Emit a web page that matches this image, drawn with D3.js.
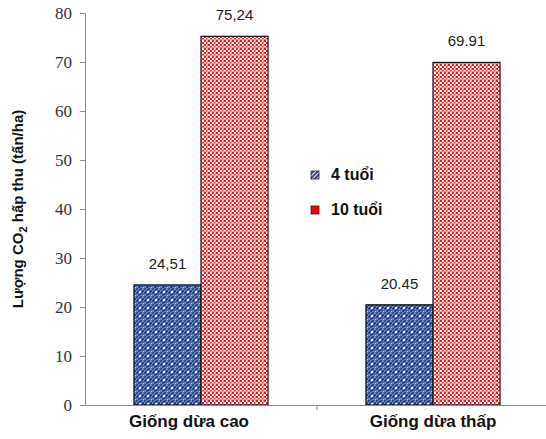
<!DOCTYPE html>
<html>
<head>
<meta charset="utf-8">
<script src="https://cdn.jsdelivr.net/npm/d3@7"></script>
<style>
  html, body { margin: 0; padding: 0; background: #fff; }
  svg { display: block; }
  .ytick text { font-family: 'Liberation Serif', 'DejaVu Serif', serif; }
</style>
</head>
<body>
<div id="chart"></div>
<script>
// Carbon uptake of coconut varieties by tree age
const categories = ["Giống dừa cao", "Giống dừa thấp"];
const seriesNames = ["4 tuổi", "10 tuổi"];
const values4 = [24.51, 20.45];
const values10 = [75.24, 69.91];
const valueLabels4 = ["24,51", "20.45"];
const valueLabels10 = ["75,24", "69.91"];
const yTicks = [0, 10, 20, 30, 40, 50, 60, 70, 80];

const W = 546, H = 439;
const margin = { left: 85, right: -3, top: 13, bottom: 34 };
const svg = d3.select("#chart").append("svg").attr("width", W).attr("height", H);

// Fill patterns
const defs = svg.append("defs");
const pb = defs.append("pattern").attr("id", "patBlue")
  .attr("patternUnits", "userSpaceOnUse").attr("width", 8).attr("height", 8);
pb.append("rect").attr("width", 8).attr("height", 8).attr("fill", "#6f84bb");
for (let i = 0; i < 8; i += 2) for (let j = 0; j < 8; j += 2) {
  if (((i + j) / 2) % 2 === 0) pb.append("rect").attr("x", i).attr("y", j).attr("width", 2).attr("height", 2).attr("fill", "#2c4a96");
}
pb.append("rect").attr("x", 3).attr("y", 3).attr("width", 2).attr("height", 2).attr("fill", "#ffffff");
pb.append("rect").attr("x", 3).attr("y", 1).attr("width", 2).attr("height", 1).attr("fill", "#1a3583");
pb.append("rect").attr("x", 3).attr("y", 6).attr("width", 2).attr("height", 1).attr("fill", "#1a3583");
pb.append("rect").attr("x", 1).attr("y", 3).attr("width", 1).attr("height", 2).attr("fill", "#1a3583");
pb.append("rect").attr("x", 6).attr("y", 3).attr("width", 1).attr("height", 2).attr("fill", "#1a3583");
pb.append("rect").attr("x", 7).attr("y", 7).attr("width", 1).attr("height", 1).attr("fill", "#d8e0f4");

const pr = defs.append("pattern").attr("id", "patRed")
  .attr("patternUnits", "userSpaceOnUse").attr("width", 8).attr("height", 8);
pr.append("rect").attr("width", 8).attr("height", 8).attr("fill", "#ffffff");
for (let i = 0; i < 8; i += 2) for (let j = 0; j < 8; j += 2) {
  if (((i + j) / 2) % 2 === 0) pr.append("rect").attr("x", i).attr("y", j).attr("width", 2).attr("height", 2).attr("fill", "#ff1010");
}
pr.append("rect").attr("x", 0).attr("y", 7).attr("width", 8).attr("height", 1).attr("fill", "#ff8a8a");
pr.append("rect").attr("x", 7).attr("y", 0).attr("width", 1).attr("height", 8).attr("fill", "#ff8a8a");

const ph = defs.append("pattern").attr("id", "patHatch")
  .attr("patternUnits", "userSpaceOnUse").attr("width", 3).attr("height", 3)
  .attr("patternTransform", "rotate(45)");
ph.append("rect").attr("width", 3).attr("height", 3).attr("fill", "#2a3a70");
ph.append("rect").attr("width", 1.2).attr("height", 3).attr("fill", "#dfe6f5");

const x = d3.scaleBand().domain(categories)
  .range([margin.left, W - margin.right]).paddingInner(0).paddingOuter(0);
const xs = d3.scaleBand().domain(seriesNames).range([0, x.bandwidth()]).paddingInner(0).paddingOuter(0.73);
const y = d3.scaleLinear().domain([0, 80]).range([H - margin.bottom, margin.top]);

// Y axis
const yAxis = svg.append("g").attr("class", "ytick").attr("transform", `translate(${margin.left},0)`)
  .call(d3.axisLeft(y).tickValues(yTicks).tickSize(5).tickSizeOuter(0).tickPadding(8));
yAxis.attr("font-family", null);
yAxis.select(".domain").attr("stroke", "#8c8c8c");
yAxis.selectAll(".tick line").attr("stroke", "#8c8c8c");
yAxis.selectAll("text").attr("font-size", 17).attr("fill", "#333");

// Bars
const rows = categories.map((c, i) => ({ cat: c, vals: [
  { s: seriesNames[0], v: values4[i], lab: valueLabels4[i], fill: "url(#patBlue)" },
  { s: seriesNames[1], v: values10[i], lab: valueLabels10[i], fill: "url(#patRed)" }
]}));
const g = svg.append("g");
rows.forEach(r => {
  r.vals.forEach(d => {
    const bx = x(r.cat) + xs(d.s);
    g.append("rect").attr("x", bx).attr("y", y(d.v))
      .attr("width", xs.bandwidth()).attr("height", y(0) - y(d.v))
      .attr("fill", d.fill).attr("stroke", "#111").attr("stroke-width", 1.2);
    g.append("text").attr("x", bx + xs.bandwidth() / 2).attr("y", y(d.v) - 16)
      .attr("text-anchor", "middle").attr("font-family", "'Liberation Sans', Arial, sans-serif")
      .attr("font-size", 15).attr("fill", "#222").text(d.lab);
  });
});

// X axis
const xAxis = svg.append("g").attr("transform", `translate(0,${y(0)})`)
  .call(d3.axisBottom(x).tickSize(0).tickSizeOuter(0).tickPadding(10));
xAxis.select(".domain").attr("stroke", "#8c8c8c");
xAxis.selectAll("text").attr("font-family", "'Liberation Sans', Arial, sans-serif")
  .attr("font-size", 17).attr("font-weight", "bold").attr("fill", "#111")
  .attr("dx", (d, i) => i === 0 ? -12 : 0);
// category boundary tick marks
svg.append("g").selectAll("line").data(categories.slice(1)).join("line")
  .attr("x1", d => x(d)).attr("x2", d => x(d))
  .attr("y1", y(0)).attr("y2", y(0) + 5).attr("stroke", "#8c8c8c");

// Y axis title
const title = svg.append("text")
  .attr("transform", `translate(23,${(y(0) + y(80)) / 2}) rotate(-90)`)
  .attr("text-anchor", "middle").attr("font-family", "'Liberation Sans', Arial, sans-serif")
  .attr("font-size", 15).attr("font-weight", "bold").attr("fill", "#111");
title.append("tspan").text("Lượng CO");
title.append("tspan").attr("font-size", 11).attr("dy", 4).text("2");
title.append("tspan").attr("dy", -4).text(" hấp thu (tấn/ha)");

// Legend
const legendFills = ["url(#patHatch)", "#ff0000"];
const lg = svg.append("g").attr("transform", "translate(311,171)");
seriesNames.forEach((s, i) => {
  const row = lg.append("g").attr("transform", `translate(0,${i * 35})`);
  row.append("rect").attr("x", 0).attr("y", 0).attr("width", 8).attr("height", 8)
    .attr("fill", legendFills[i]).attr("stroke", "#222").attr("stroke-width", 0.8);
  row.append("text").attr("x", 20).attr("y", 8.5)
    .attr("font-family", "'Liberation Sans', Arial, sans-serif")
    .attr("font-size", 16).attr("font-weight", "bold").attr("fill", "#111").text(s);
});
</script>
</body>
</html>
